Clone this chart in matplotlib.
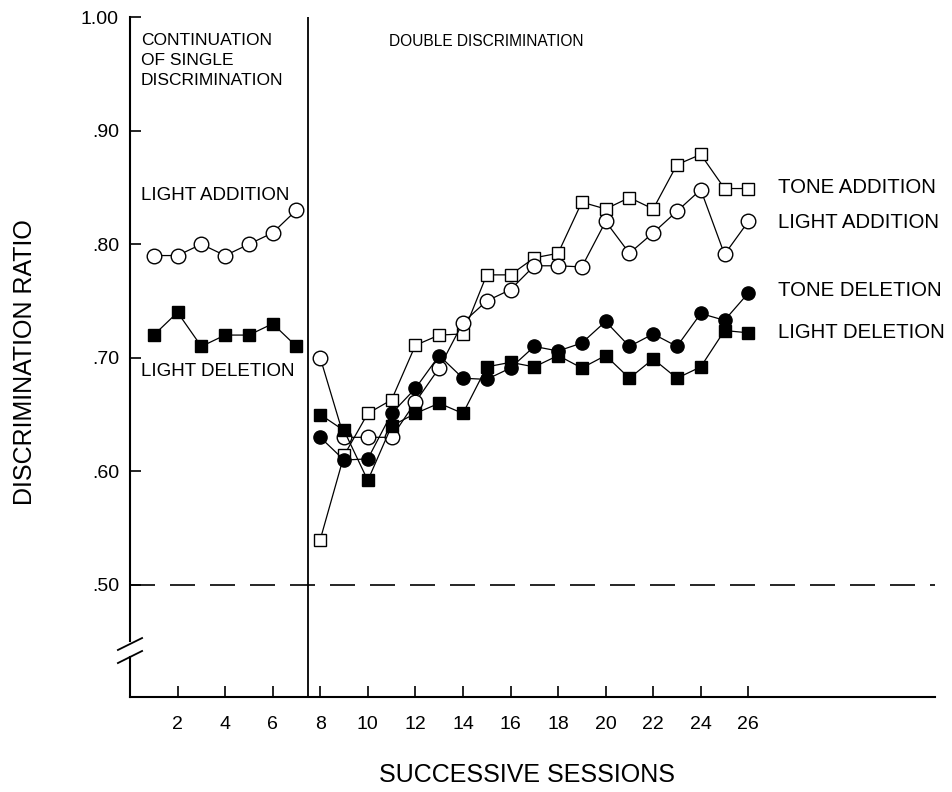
import matplotlib.pyplot as plt
import numpy as np
from matplotlib.transforms import blended_transform_factory

plt.rcParams['font.family'] = ['Liberation Sans', 'DejaVu Sans']

# -------------------------- data --------------------------
sessions_single = [1, 2, 3, 4, 5, 6, 7]
light_add_single = [0.79, 0.79, 0.80, 0.79, 0.80, 0.81, 0.83]
light_del_single = [0.72, 0.74, 0.71, 0.72, 0.72, 0.73, 0.71]

sessions_double = list(range(8, 27))
tone_add = [0.54, 0.614, 0.651, 0.663, 0.711, 0.720, 0.721, 0.773, 0.773, 0.788,
            0.792, 0.837, 0.831, 0.841, 0.831, 0.870, 0.879, 0.849, 0.849]
light_add = [0.70, 0.630, 0.630, 0.630, 0.661, 0.691, 0.731, 0.750, 0.760, 0.781,
             0.781, 0.780, 0.820, 0.792, 0.810, 0.829, 0.848, 0.791, 0.820]
tone_del = [0.630, 0.610, 0.611, 0.651, 0.673, 0.702, 0.682, 0.681, 0.691, 0.710,
            0.706, 0.713, 0.732, 0.710, 0.721, 0.710, 0.739, 0.733, 0.757]
light_del = [0.650, 0.636, 0.592, 0.640, 0.651, 0.660, 0.651, 0.692, 0.696, 0.692,
             0.702, 0.691, 0.702, 0.682, 0.699, 0.682, 0.692, 0.724, 0.722]

x_ticks = list(range(2, 27, 2))
y_ticks = [0.50, 0.60, 0.70, 0.80, 0.90, 1.00]
y_ticklabels = ['.50', '.60', '.70', '.80', '.90', '1.00']

# -------------------------- drawing --------------------------
fig = plt.figure(figsize=(9.53, 7.92), dpi=100)
ax = fig.add_axes([130 / 953, 95 / 792, 805 / 953, 680 / 792])

lw = 0.9
open_circle = dict(marker='o', markersize=10.5, markerfacecolor='white', markeredgecolor='black',
                   markeredgewidth=1.0, color='black', linewidth=lw)
open_square = dict(marker='s', markersize=9, markerfacecolor='white', markeredgecolor='black',
                   markeredgewidth=1.0, color='black', linewidth=lw)
fill_circle = dict(marker='o', markersize=9.5, markerfacecolor='black', markeredgecolor='black',
                   color='black', linewidth=lw)
fill_square = dict(marker='s', markersize=8.5, markerfacecolor='black', markeredgecolor='black',
                   color='black', linewidth=lw)

ax.plot(sessions_single, light_add_single, zorder=5, **open_circle)
ax.plot(sessions_single, light_del_single, zorder=5, **fill_square)

ax.plot(sessions_double, tone_add, zorder=4, **open_square)
ax.plot(sessions_double, light_add, zorder=5, **open_circle)
ax.plot(sessions_double, tone_del, zorder=6, **fill_circle)
ax.plot(sessions_double, light_del, zorder=7, **fill_square)

# chance line and phase divider
chance = ax.axhline(0.50, color='black', linewidth=1.2, zorder=1)
chance.set_dashes((15, 9))
ax.axvline(7.5, color='black', linewidth=1.3, zorder=1)

ax.set_xlim(0, 33.85)
ax.set_ylim(0.4014, 1.0)

ax.set_xticks(x_ticks)
ax.set_yticks(y_ticks)
ax.set_yticklabels(y_ticklabels)
ax.tick_params(axis='both', direction='in', length=8, width=1.2, labelsize=14, pad=14)
ax.tick_params(axis='y', pad=8)

for s in ['top', 'right', 'left']:
    ax.spines[s].set_visible(False)
ax.spines['bottom'].set_linewidth(1.5)

# broken y axis
trans = blended_transform_factory(ax.transAxes, ax.transData)
ax.plot([0, 0], [0.4505, 1.0], color='black', linewidth=1.5, transform=trans, clip_on=False)
ax.plot([0, 0], [0.4014, 0.4365], color='black', linewidth=1.5, transform=trans, clip_on=False)
ax.plot([-0.015, 0.015], [0.4428, 0.4533], color='black', linewidth=1.3, transform=trans, clip_on=False)
ax.plot([-0.015, 0.015], [0.4313, 0.4419], color='black', linewidth=1.3, transform=trans, clip_on=False)

# text labels
ax.text(0.45, 0.986, 'CONTINUATION\nOF SINGLE\nDISCRIMINATION', fontsize=12.5, va='top', ha='left',
        linespacing=1.42)
ax.text(10.87, 0.978, 'DOUBLE DISCRIMINATION', fontsize=11.2, va='center', ha='left')
ax.text(0.45, 0.843, 'LIGHT ADDITION', fontsize=13.5, va='center', ha='left')
ax.text(0.45, 0.6875, 'LIGHT DELETION', fontsize=13.5, va='center', ha='left')

ax.text(27.25, 0.850, 'TONE ADDITION', fontsize=14.7, va='center', ha='left')
ax.text(27.25, 0.8195, 'LIGHT ADDITION', fontsize=14.7, va='center', ha='left')
ax.text(27.25, 0.759, 'TONE DELETION', fontsize=14.7, va='center', ha='left')
ax.text(27.25, 0.722, 'LIGHT DELETION', fontsize=14.7, va='center', ha='left')

fig.text(25 / 953, 1 - 362 / 792, 'DISCRIMINATION RATIO', rotation=90, fontsize=18,
         ha='center', va='center')
fig.text(527 / 953, 1 - 775 / 792, 'SUCCESSIVE SESSIONS', fontsize=18, ha='center', va='center')

fig.savefig('out.png', dpi=100)
